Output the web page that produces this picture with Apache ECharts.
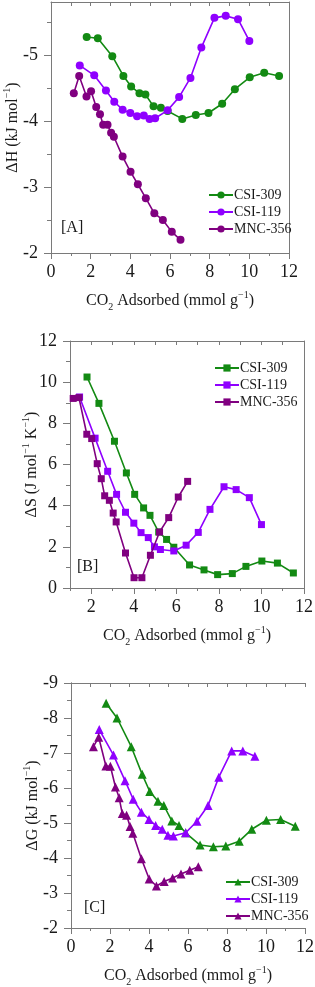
<!DOCTYPE html>
<html>
<head>
<meta charset="utf-8">
<script src="https://cdn.jsdelivr.net/npm/echarts@6/dist/echarts.min.js"></script>
<style>html,body{margin:0;padding:0;background:#fff;}#c{width:315px;height:987px;}</style>
</head>
<body>
<div id="c"></div>
<script>
// ---- data ----
const seriesNames = ['CSI-309', 'CSI-119', 'MNC-356'];
const x309 = [1.8, 2.36, 3.09, 3.65, 4.04, 4.46, 4.76, 5.17, 5.54, 5.88, 6.62, 7.3, 7.94, 8.63, 9.27, 10.02, 10.75, 11.5];
const x119 = [1.45, 2.18, 2.77, 3.19, 3.61, 4.0, 4.34, 4.68, 4.97, 5.25, 5.88, 6.46, 7.03, 7.58, 8.24, 8.81, 9.43, 10.0];
const x356 = [1.15, 1.42, 1.79, 2.02, 2.28, 2.47, 2.63, 2.85, 3.03, 3.17, 3.61, 4.01, 4.38, 4.78, 5.21, 5.64, 6.09, 6.53];

const dH309 = [-5.27, -5.25, -4.98, -4.68, -4.52, -4.42, -4.40, -4.22, -4.20, -4.15, -4.03, -4.09, -4.12, -4.26, -4.48, -4.66, -4.73, -4.68];
const dH119 = [-4.84, -4.69, -4.46, -4.29, -4.17, -4.12, -4.07, -4.08, -4.03, -4.04, -4.16, -4.36, -4.65, -5.11, -5.56, -5.59, -5.54, -5.21];
const dH356 = [-4.42, -4.68, -4.37, -4.45, -4.21, -4.10, -3.94, -3.94, -3.82, -3.76, -3.46, -3.23, -3.04, -2.83, -2.60, -2.50, -2.32, -2.20];

const dS309 = [10.25, 8.97, 7.13, 5.59, 4.55, 3.89, 3.53, 2.72, 2.36, 1.98, 1.12, 0.88, 0.65, 0.70, 1.05, 1.31, 1.21, 0.73];
const dS119 = [9.28, 7.28, 5.67, 4.55, 3.68, 3.15, 2.69, 2.45, 2.0, 1.87, 1.8, 2.08, 2.7, 3.82, 4.92, 4.78, 4.39, 3.08];
const dS356 = [9.21, 9.25, 7.47, 7.26, 6.04, 5.31, 4.48, 4.26, 3.64, 3.21, 1.7, 0.5, 0.5, 1.59, 2.72, 3.42, 4.42, 5.18];

const dG309 = [-8.42, -8.0, -7.18, -6.39, -5.90, -5.62, -5.50, -5.06, -4.93, -4.72, -4.37, -4.32, -4.34, -4.48, -4.82, -5.08, -5.10, -4.91];
const dG119 = [-7.67, -6.94, -6.21, -5.68, -5.31, -5.10, -4.93, -4.82, -4.65, -4.63, -4.72, -5.05, -5.50, -6.31, -7.06, -7.06, -6.91];
const dG356 = [-7.18, -7.45, -6.63, -6.62, -6.03, -5.72, -5.27, -5.22, -4.90, -4.71, -3.98, -3.40, -3.20, -3.33, -3.43, -3.54, -3.65, -3.75];

const xTicksB = [2, 4, 6, 8, 10, 12];
const yTicksA = [-5, -4, -3, -2];
const yMinorA = [-5.5, -4.5, -3.5, -2.5];
const xMinorB = [1, 3, 5, 7, 9, 11];
const panelTags = ['[A]', '[B]', '[C]'];

// ---- style ----
const FONT = '"Liberation Serif", "Times New Roman", serif';
const AX = '#7a7a7a';
const TXT = '#1a1a1a';
const colors = ['#138a13', '#8f00ff', '#800080'];
const symbols = ['circle', 'rect', 'triangle'];
const symSizes = [8, 7, 9];

const richStyle = {
  t: { fontSize: 16, fontFamily: FONT, color: TXT, lineHeight: 22, verticalAlign: 'middle' },
  s: { fontSize: 10, fontFamily: FONT, color: TXT, lineHeight: 22, verticalAlign: 'bottom' },
  u: { fontSize: 10, fontFamily: FONT, color: TXT, lineHeight: 22, verticalAlign: 'top' }
};
const xName = '{t|CO}{s|2}{t| Adsorbed (mmol g}{u|−1}{t|)}';
const yNames = [
  '{t|ΔH (kJ mol}{u|−1}{t|)}',
  '{t|ΔS (J mol}{u|−1}{t| K}{u|−1}{t|)}',
  '{t|ΔG (kJ mol}{u|−1}{t|)}'
];

const grids = [
  { left: 51, top: 2, width: 238, height: 251, outerBoundsMode: 'none', containLabel: false },
  { left: 70, top: 341, width: 234, height: 247, outerBoundsMode: 'none', containLabel: false },
  { left: 71, top: 683, width: 234, height: 245, outerBoundsMode: 'none', containLabel: false }
];

const lineStyle = { color: AX, width: 1 };
const labelStyle = { fontSize: 18, fontFamily: FONT, color: TXT };
const Y_GAP = 27;
const X_GAP = 37;
const yNameBase = { nameLocation: 'middle', nameGap: Y_GAP, nameMoveOverlap: false, nameTextStyle: { rich: richStyle } };
const xNameBase = { name: xName, nameLocation: 'middle', nameGap: X_GAP, nameMoveOverlap: false, nameTextStyle: { rich: richStyle } };

const xAxes = [];
const yAxes = [];
function addX(obj) { xAxes.push(obj); return xAxes.length - 1; }
function addY(obj) { yAxes.push(obj); return yAxes.length - 1; }
const xMain = [], yMain = [];

// Panel A
xMain.push(addX({ gridIndex: 0, type: 'value', min: 0, max: 12, interval: 2, position: 'bottom',
  axisLine: { lineStyle }, axisTick: { length: 6, lineStyle }, minorTick: { show: true, splitNumber: 2, length: 3, lineStyle },
  axisLabel: { ...labelStyle, margin: 10 }, splitLine: { show: false }, ...xNameBase }));
addX({ gridIndex: 0, type: 'value', min: 0, max: 12, interval: 1, position: 'top',
  axisLine: { lineStyle }, axisTick: { inside: true, length: 4, lineStyle }, axisLabel: { show: false }, splitLine: { show: false } });
yMain.push(addY({ gridIndex: 0, type: 'value', min: -5.8, max: -2, inverse: true, position: 'left',
  axisLine: { show: true, lineStyle }, axisTick: { show: true, length: 7, lineStyle, customValues: yTicksA },
  axisLabel: { ...labelStyle, margin: 13, customValues: yTicksA }, splitLine: { show: false },
  name: yNames[0], ...yNameBase }));
addY({ gridIndex: 0, type: 'value', min: -5.8, max: -2, inverse: true, position: 'left',
  axisLine: { show: false }, axisTick: { show: true, length: 4, lineStyle, customValues: yMinorA },
  axisLabel: { show: false }, splitLine: { show: false } });
addY({ gridIndex: 0, type: 'value', min: -5.8, max: -2, inverse: true, position: 'right',
  axisLine: { show: true, lineStyle }, axisTick: { show: false }, axisLabel: { show: false }, splitLine: { show: false } });

// Panel B
xMain.push(addX({ gridIndex: 1, type: 'value', min: 1, max: 12, position: 'bottom',
  axisLine: { lineStyle }, axisTick: { length: 6, lineStyle, customValues: xTicksB },
  axisLabel: { ...labelStyle, margin: 10, customValues: xTicksB }, splitLine: { show: false }, ...xNameBase }));
addX({ gridIndex: 1, type: 'value', min: 1, max: 12, position: 'bottom',
  axisLine: { show: false }, axisTick: { length: 3, lineStyle, customValues: xMinorB },
  axisLabel: { show: false }, splitLine: { show: false } });
addX({ gridIndex: 1, type: 'value', min: 1, max: 12, interval: 1, position: 'top',
  axisLine: { lineStyle }, axisTick: { inside: true, length: 4, lineStyle }, axisLabel: { show: false }, splitLine: { show: false } });
yMain.push(addY({ gridIndex: 1, type: 'value', min: 0, max: 12, interval: 2, position: 'left',
  axisLine: { show: true, lineStyle }, axisTick: { show: true, length: 7, lineStyle },
  minorTick: { show: true, splitNumber: 2, length: 4, lineStyle },
  axisLabel: { ...labelStyle, margin: 13 }, splitLine: { show: false },
  name: yNames[1], ...yNameBase }));
addY({ gridIndex: 1, type: 'value', min: 0, max: 12, interval: 2, position: 'right',
  axisLine: { show: true, lineStyle }, axisTick: { show: false }, axisLabel: { show: false }, splitLine: { show: false } });

// Panel C
xMain.push(addX({ gridIndex: 2, type: 'value', min: 0, max: 12, interval: 2, position: 'bottom',
  axisLine: { lineStyle }, axisTick: { length: 6, lineStyle }, minorTick: { show: true, splitNumber: 2, length: 3, lineStyle },
  axisLabel: { ...labelStyle, margin: 10 }, splitLine: { show: false }, ...xNameBase }));
addX({ gridIndex: 2, type: 'value', min: 0, max: 12, interval: 1, position: 'top',
  axisLine: { lineStyle }, axisTick: { inside: true, length: 4, lineStyle }, axisLabel: { show: false }, splitLine: { show: false } });
yMain.push(addY({ gridIndex: 2, type: 'value', min: -9, max: -2, interval: 1, inverse: true, position: 'left',
  axisLine: { show: true, lineStyle }, axisTick: { show: true, length: 7, lineStyle },
  minorTick: { show: true, splitNumber: 2, length: 4, lineStyle },
  axisLabel: { ...labelStyle, margin: 13 }, splitLine: { show: false },
  name: yNames[2], ...yNameBase }));
addY({ gridIndex: 2, type: 'value', min: -9, max: -2, interval: 1, inverse: true, position: 'right',
  axisLine: { show: true, lineStyle }, axisTick: { show: false }, axisLabel: { show: false }, splitLine: { show: false } });

const xs = [x309, x119, x356];
const panelData = [
  [dH309, dH119, dH356],
  [dS309, dS119, dS356],
  [dG309, dG119, dG356]
];
const tags = ['A', 'B', 'C'];

const series = [];
for (let p = 0; p < 3; p++) {
  for (let s = 0; s < 3; s++) {
    const vals = panelData[p][s];
    series.push({
      type: 'line',
      name: tags[p] + '|' + seriesNames[s],
      xAxisIndex: xMain[p], yAxisIndex: yMain[p],
      data: vals.map((v, i) => [xs[s][i], v]),
      symbol: symbols[p], symbolSize: symSizes[p],
      lineStyle: { color: colors[s], width: 1.6 },
      itemStyle: { color: colors[s], borderWidth: 0 },
      animation: false, z: 2 + s
    });
  }
}

const legendPos = [
  { left: 203, top: 183 },
  { left: 209, top: 356 },
  { left: 220, top: 870 }
];
const legends = legendPos.map((pos, p) => ({
  ...pos, orient: 'vertical', itemWidth: 24, itemHeight: 9, itemGap: 3,
  data: seriesNames.map(n => tags[p] + '|' + n),
  formatter: n => n.split('|')[1],
  textStyle: { fontFamily: FONT, fontSize: 14, color: TXT, padding: [0, 0, 0, -4] },
  selectedMode: false
}));

const tagPos = [
  { left: 61, top: 220 },
  { left: 77, top: 559 },
  { left: 84, top: 900 }
];
const graphics = tagPos.map((pos, p) => ({
  type: 'text', left: pos.left, top: pos.top,
  style: { text: panelTags[p], fontFamily: FONT, fontSize: 16, fill: TXT }
}));

const chart = echarts.init(document.getElementById('c'), null, { renderer: 'canvas' });
chart.setOption({
  backgroundColor: '#fff',
  animation: false,
  grid: grids,
  xAxis: xAxes,
  yAxis: yAxes,
  legend: legends,
  graphic: graphics,
  series: series
});
</script>
</body>
</html>
